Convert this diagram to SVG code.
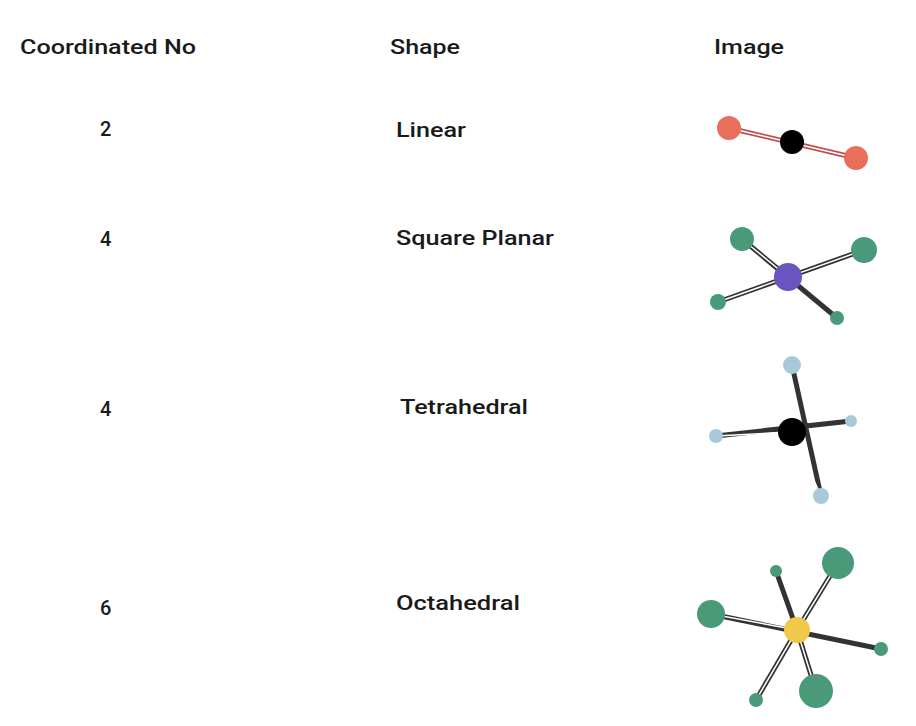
<svg xmlns="http://www.w3.org/2000/svg" width="916" height="726" viewBox="0 0 916 726">
<style>
text{font-family:"Roboto","Liberation Sans",sans-serif;font-size:20px;font-weight:500;fill:#1a1a1a}
path{fill:none}
.b{stroke:#333;stroke-width:5}
.bi{stroke:#fff;stroke-width:1.5}
.br{stroke:#c0504d;stroke-width:5}
.g{fill:#4a9a7a}.lb{fill:#a9c9da}.o{fill:#e8705a}
</style>
<rect width="916" height="726" fill="#fff"/>
<g id="headers"><text x="20" y="54" textLength="176" lengthAdjust="spacingAndGlyphs">Coordinated No</text><text x="390" y="54" textLength="70" lengthAdjust="spacingAndGlyphs">Shape</text><text x="714" y="54" textLength="70" lengthAdjust="spacingAndGlyphs">Image</text></g>
<g id="row1"><text x="100" y="136">2</text><text x="396" y="137" textLength="70" lengthAdjust="spacingAndGlyphs">Linear</text></g>
<g id="row2"><text x="100" y="246">4</text><text x="396" y="245" textLength="158" lengthAdjust="spacingAndGlyphs">Square Planar</text></g>
<g id="row3"><text x="100" y="416">4</text><text x="400" y="414" textLength="128" lengthAdjust="spacingAndGlyphs">Tetrahedral</text></g>
<g id="row4"><text x="100" y="615">6</text><text x="396" y="610" textLength="124" lengthAdjust="spacingAndGlyphs">Octahedral</text></g>
<g id="connectors">
<path class="br" d="M729 128L856 158"/><path class="bi" d="M729 128L856 158"/>
<path class="b" d="M742 239L837 318M864 250L718 302"/><path class="bi" d="M742 239L788 277M864 250L718 302"/>
<path class="b" d="M792 365L821 496M716 436L851 421"/><path class="bi" d="M792 432L821 496M716 436L792 432"/>
<path class="b" d="M838 563L797 630L816 691M776 571L797 630M711 614L881 649M797 630L756 700"/><path class="bi" d="M838 563L797 630L816 691M711 614L797 630M797 630L756 700"/>
</g>
<g id="linear"><circle cx="729" cy="128" r="12" class="o"/><circle cx="792" cy="142" r="12" fill="#000"/><circle cx="856" cy="158" r="12" class="o"/></g>
<g id="square"><circle cx="742" cy="239" r="12" class="g"/><circle cx="864" cy="250" r="13" class="g"/><circle cx="718" cy="302" r="8" class="g"/><circle cx="837" cy="318" r="7" class="g"/><circle cx="788" cy="277" r="14" fill="#6a55c0"/></g>
<g id="tetra"><circle cx="792" cy="365" r="9" class="lb"/><circle cx="716" cy="436" r="7" class="lb"/><circle cx="851" cy="421" r="6" class="lb"/><circle cx="821" cy="496" r="8" class="lb"/><circle cx="792" cy="432" r="14" fill="#000"/></g>
<g id="octa"><circle cx="838" cy="563" r="16" class="g"/><circle cx="776" cy="571" r="6" class="g"/><circle cx="711" cy="614" r="14" class="g"/><circle cx="881" cy="649" r="7" class="g"/><circle cx="816" cy="691" r="17" class="g"/><circle cx="756" cy="700" r="7" class="g"/><circle cx="797" cy="630" r="13" fill="#f0c84a"/></g>
</svg>
